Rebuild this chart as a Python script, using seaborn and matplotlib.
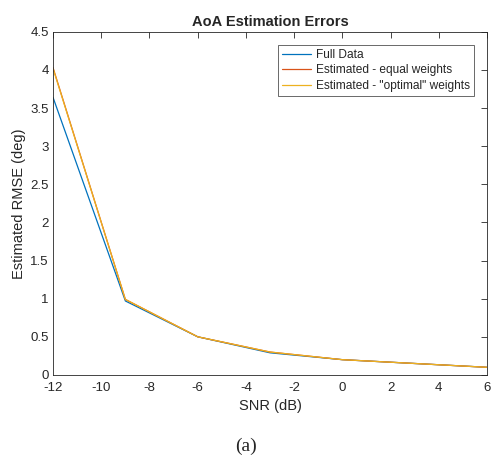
import pandas as pd
import matplotlib
matplotlib.use("Agg")
import matplotlib.pyplot as plt
import seaborn as sns

snr = [-12, -9, -6, -3, 0, 3, 6]
full_data = [3.64, 0.97, 0.50, 0.29, 0.20, 0.15, 0.10]
equal_w = [4.03, 0.99, 0.50, 0.30, 0.20, 0.15, 0.10]
optimal_w = [4.02, 0.99, 0.50, 0.30, 0.20, 0.15, 0.10]

labels = ['Full Data', 'Estimated - equal weights', 'Estimated - "optimal" weights']
colors = ['#0072BD', '#D95319', '#EDB120']

df = pd.DataFrame({
    'SNR': snr * 3,
    'RMSE': full_data + equal_w + optimal_w,
    'Series': [labels[0]] * len(snr) + [labels[1]] * len(snr) + [labels[2]] * len(snr),
})

sns.set_style("white")
plt.rcParams['font.family'] = ['Liberation Sans', 'DejaVu Sans']
plt.rcParams['axes.unicode_minus'] = False

fig = plt.figure(figsize=(4.91, 4.55), dpi=100)
ax = fig.add_axes([0.108, 0.176, 0.884, 0.754])

sns.lineplot(data=df, x='SNR', y='RMSE', hue='Series', palette=colors,
             hue_order=labels, linewidth=0.9, ax=ax)

ax.set_xlim(-12, 6)
ax.set_ylim(0, 4.5)
ax.set_xticks(range(-12, 7, 2))
ax.set_yticks([0, 0.5, 1, 1.5, 2, 2.5, 3, 3.5, 4, 4.5])
ax.set_yticklabels(['0', '0.5', '1', '1.5', '2', '2.5', '3', '3.5', '4', '4.5'])
ax.tick_params(direction='in', top=True, right=True, length=4, width=0.6,
               labelsize=9.5, colors='#262626')
ax.tick_params(axis='x', pad=5)
ax.tick_params(axis='y', pad=3)
for s in ax.spines.values():
    s.set_color('#262626')
    s.set_linewidth(0.6)

ax.set_xlabel('SNR (dB)', fontsize=10.5, color='#262626', labelpad=4)
ax.set_ylabel('Estimated RMSE (deg)', fontsize=10.5, color='#262626', labelpad=3)
ax.set_title('AoA Estimation Errors', fontsize=10.5, fontweight='bold', pad=4)

leg = ax.legend(loc='upper right', bbox_to_anchor=(0.983, 0.98), fontsize=8.6,
                frameon=True, fancybox=False, handlelength=2.4, borderpad=0.35,
                labelspacing=0.3, handletextpad=0.4)
leg.get_frame().set_edgecolor('#262626')
leg.get_frame().set_linewidth(0.6)

fig.text(0.5, 0.01, '(a)', ha='center', fontsize=14, family='Liberation Serif')

fig.savefig('out.png', dpi=100)
